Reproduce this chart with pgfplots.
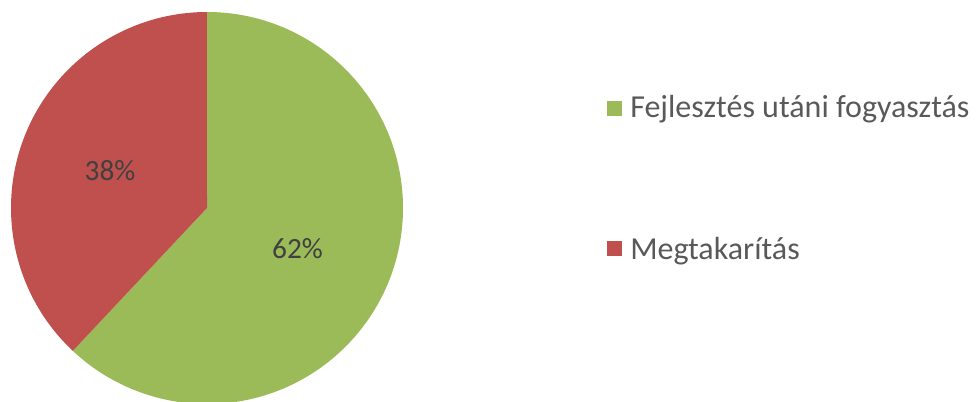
\documentclass[border=0pt]{standalone}
\usepackage{pgfplots}
\usepackage{pgfplotstable}
\pgfplotsset{compat=1.18}
\usepackage{fontspec}
\setmainfont{Carlito}
\definecolor{pgreen}{HTML}{9BBB59}
\definecolor{pred}{HTML}{C0504D}
\definecolor{ptext}{HTML}{404040}
\definecolor{ltext}{HTML}{595959}
\pgfplotstableread{
label value
Fejlesztes 62
Megtakaritas 38
}\piedata
\begin{document}
\begin{tikzpicture}
\pgfplotstablegetelem{0}{value}\of\piedata \let\va\pgfplotsretval
\pgfplotstablegetelem{1}{value}\of\piedata \let\vb\pgfplotsretval
\pgfmathsetmacro{\tot}{\va+\vb}
\pgfmathsetmacro{\angA}{90-\va/\tot*360}
\pgfmathsetmacro{\angB}{\angA-\vb/\tot*360}
\begin{axis}[
  scale only axis, width=732pt, height=300.75pt,
  xmin=0, xmax=976, ymin=0, ymax=401,
  hide axis, clip=true,
]
\path (axis cs:0,0) rectangle (axis cs:976,401);
% pie slices (radius 196 units = 147pt)
\fill[pgreen] (axis cs:207,193) -- (axis cs:207,389) arc[start angle=90, end angle=\angA, radius=147pt] -- cycle;
\fill[pred] (axis cs:207,193) -- ++(\angA:147pt) arc[start angle=\angA, end angle=\angB, radius=147pt] -- cycle;
% data labels
\node[text=ptext, font=\fontsize{22pt}{26pt}\selectfont] at (axis cs:297.5,152) {\va\%};
\node[text=ptext, font=\fontsize{22pt}{26pt}\selectfont] at (axis cs:110,230) {\vb\%};
% legend
\fill[pgreen] (axis cs:607,300) rectangle (axis cs:622,285);
\node[anchor=base west, text=ltext, inner sep=0pt, font=\fontsize{24pt}{28pt}\selectfont] at (axis cs:630,284) {Fejlesztés utáni fogyasztás};
\fill[pred] (axis cs:607,160) rectangle (axis cs:622,145);
\node[anchor=base west, text=ltext, inner sep=0pt, font=\fontsize{24pt}{28pt}\selectfont] at (axis cs:630,142) {Megtakarítás};
\end{axis}
\end{tikzpicture}
\end{document}
